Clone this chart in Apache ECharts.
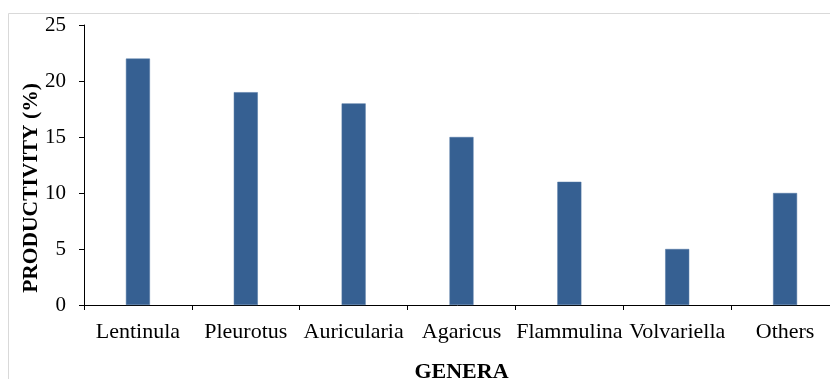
<!DOCTYPE html>
<html><head><meta charset="utf-8">
<script src="https://cdn.jsdelivr.net/npm/echarts@6/dist/echarts.min.js"></script>
<style>html,body{margin:0;padding:0;background:#fff}#c{width:830px;height:379px}</style>
</head><body><div id="c"></div>
<script>
const categories = ['Lentinula','Pleurotus','Auricularia','Agaricus','Flammulina','Volvariella','Others'];
const productivity = [22, 19, 18, 15, 11, 5, 10];
const yTicks = [0, 5, 10, 15, 20, 25];
const xTitle = 'GENERA';
const yTitle = 'PRODUCTIVITY (%)';

const chart = echarts.init(document.getElementById('c'), null, {renderer:'canvas'});
const font = '"Liberation Serif","Times New Roman",serif';
chart.setOption({
  animation:false,
  backgroundColor:'#fff',
  graphic:[{type:'rect', shape:{x:8.5,y:13.5,width:900,height:400}, style:{fill:'none',stroke:'#d9d9d9',lineWidth:1}, z:-10}],
  grid:{left:84, top:25, width:755, height:280, containLabel:false, outerBoundsMode:'none'},
  xAxis:{type:'category', data:categories,
    name:xTitle, nameLocation:'middle', nameGap:56,
    nameTextStyle:{fontFamily:font, fontSize:22, fontWeight:'bold', color:'#000'},
    axisLine:{lineStyle:{color:'#000',width:1}},
    axisTick:{show:true, length:5, lineStyle:{color:'#000'}},
    axisLabel:{fontFamily:font, fontSize:22, color:'#000', margin:16, interval:0}},
  yAxis:{type:'value', min:0, max:25, interval:5,
    name:yTitle, nameLocation:'middle', nameGap:42, nameRotate:90, nameMoveOverlap:false,
    nameTextStyle:{fontFamily:font, fontSize:21.5, fontWeight:'bold', color:'#000', padding:[0,0,0,-46]},
    axisLine:{show:true, lineStyle:{color:'#000',width:1}},
    axisTick:{show:true, length:5, lineStyle:{color:'#000'}},
    splitLine:{show:false},
    axisLabel:{fontFamily:font, fontSize:21, color:'#000', margin:18,
      formatter:v=> yTicks.includes(v)? String(v):''}},
  series:[{type:'bar', data:productivity, barWidth:24,
    itemStyle:{color:'#366092', borderColor:'#4f74a3', borderWidth:0.5}}]
});
</script></body></html>
